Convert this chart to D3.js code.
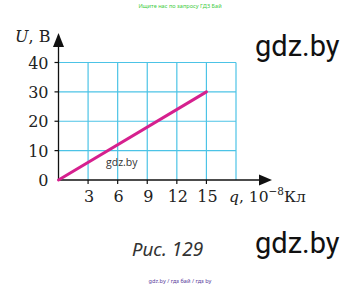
<!DOCTYPE html>
<html>
<head>
<meta charset="utf-8">
<script src="https://cdn.jsdelivr.net/npm/d3@7"></script>
<style>
  body { margin: 0; background: #fff; }
  svg { display: block; }
</style>
</head>
<body>
<div id="chart"></div>
<script>
// data
const qTicks = [3, 6, 9, 12, 15];
const qGrid = [3, 6, 9, 12, 15, 18];
const uTicks = [0, 10, 20, 30, 40];
const uGrid = [10, 20, 30, 40];
const lineQ = [0, 15];
const lineU = [0, 30];

const fullWidth = 360;
const fullHeight = 288;

const svg = d3.select('#chart').append('svg')
  .attr('width', fullWidth)
  .attr('height', fullHeight);

// scales
const x = d3.scaleLinear().domain([0, 18]).range([58.5, 236]);
const y = d3.scaleLinear().domain([0, 40]).range([180, 62.5]);

const gridColor = '#4cc3e6';
const serif = '"DejaVu Serif", "Liberation Serif", serif';

// grid
svg.append('g').selectAll('line.h')
  .data(uGrid)
  .join('line')
  .attr('x1', x(0)).attr('x2', x(18))
  .attr('y1', d => y(d)).attr('y2', d => y(d))
  .attr('stroke', gridColor).attr('stroke-width', 1.2);

svg.append('g').selectAll('line.v')
  .data(qGrid)
  .join('line')
  .attr('x1', d => x(d)).attr('x2', d => x(d))
  .attr('y1', y(0)).attr('y2', y(40))
  .attr('stroke', gridColor).attr('stroke-width', 1.2);

// axes lines with arrows
svg.append('line')
  .attr('x1', x(0)).attr('x2', x(0))
  .attr('y1', y(0)).attr('y2', 44)
  .attr('stroke', '#111').attr('stroke-width', 1.3);
svg.append('path')
  .attr('d', `M${x(0)},33 L${x(0) - 5.5},47 L${x(0) + 5.5},47 Z`)
  .attr('fill', '#111');

svg.append('line')
  .attr('x1', x(0)).attr('x2', 262)
  .attr('y1', y(0)).attr('y2', y(0))
  .attr('stroke', '#111').attr('stroke-width', 1.3);
svg.append('path')
  .attr('d', `M272,${y(0)} L259,${y(0) - 5.5} L259,${y(0) + 5.5} Z`)
  .attr('fill', '#111');

// ticks
svg.append('g').selectAll('line')
  .data(uGrid)
  .join('line')
  .attr('x1', x(0) - 4).attr('x2', x(0))
  .attr('y1', d => y(d)).attr('y2', d => y(d))
  .attr('stroke', '#111').attr('stroke-width', 1.2);

svg.append('g').selectAll('line')
  .data(qTicks)
  .join('line')
  .attr('x1', d => x(d)).attr('x2', d => x(d))
  .attr('y1', y(0)).attr('y2', y(0) + 4)
  .attr('stroke', '#111').attr('stroke-width', 1.2);

// tick labels
svg.append('g').selectAll('text')
  .data(uTicks)
  .join('text')
  .attr('x', 48.5)
  .attr('y', d => y(d) + 6)
  .attr('text-anchor', 'end')
  .style('font-family', serif)
  .style('font-size', '16px')
  .attr('fill', '#222')
  .text(d => d);

svg.append('g').selectAll('text')
  .data(qTicks)
  .join('text')
  .attr('x', d => x(d) + 1)
  .attr('y', 201.5)
  .attr('text-anchor', 'middle')
  .style('font-family', serif)
  .style('font-size', '16px')
  .attr('fill', '#222')
  .text(d => d);

// axis titles
const uLabel = svg.append('text')
  .attr('x', 15).attr('y', 41.5)
  .style('font-family', serif)
  .style('font-size', '16px')
  .attr('fill', '#222');
uLabel.append('tspan').style('font-style', 'italic').text('U');
uLabel.append('tspan').text(', В');

const qLabel = svg.append('text')
  .attr('x', 229).attr('y', 201.5)
  .style('font-family', serif)
  .style('font-size', '15.5px')
  .attr('fill', '#222');
qLabel.append('tspan').style('font-style', 'italic').text('q');
qLabel.append('tspan').text(', 10');
qLabel.append('tspan').attr('dy', -7).style('font-size', '10.5px').text('−8');
qLabel.append('tspan').attr('dy', 7).text('Кл');

// the line
svg.append('line')
  .attr('x1', x(lineQ[0])).attr('y1', y(lineU[0]))
  .attr('x2', x(lineQ[1])).attr('y2', y(lineU[1]))
  .attr('stroke', '#d6208e').attr('stroke-width', 3)
  .attr('stroke-linecap', 'round');

// caption and watermarks
svg.append('text')
  .attr('x', 106).attr('y', 166)
  .style('font-family', '"Open Sans", sans-serif')
  .style('font-size', '10.5px')
  .attr('fill', '#333')
  .text('gdz.by');

svg.append('text')
  .attr('x', 132).attr('y', 256)
  .style('font-family', '"Noto Sans", sans-serif')
  .style('font-style', 'italic')
  .style('font-size', '19px')
  .attr('fill', '#333')
  .text('Рис. 129');

svg.selectAll('text.big')
  .data([56, 253])
  .join('text')
  .attr('class', 'big')
  .attr('x', 255).attr('y', d => d)
  .style('font-family', 'Roboto, sans-serif')
  .style('font-size', '29px')
  .attr('fill', '#111')
  .text('gdz.by');

svg.append('text')
  .attr('x', 180).attr('y', 8)
  .attr('text-anchor', 'middle')
  .style('font-family', '"Noto Sans", sans-serif')
  .style('font-size', '5.6px')
  .attr('fill', '#3fcc3f')
  .text('Ищите нас по запросу ГДЗ Бай');

svg.append('text')
  .attr('x', 180).attr('y', 283)
  .attr('text-anchor', 'middle')
  .style('font-family', '"Noto Sans", sans-serif')
  .style('font-size', '5.6px')
  .attr('fill', '#5a3c9c')
  .text('gdz.by / гдз бай / гдз by');
</script>
</body>
</html>
